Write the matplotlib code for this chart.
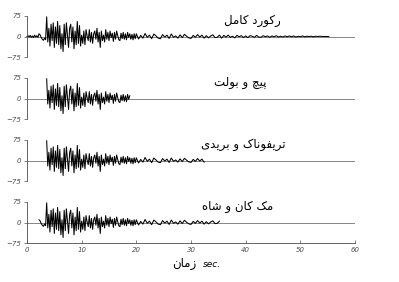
import numpy as np
import matplotlib
matplotlib.use('Agg')
from matplotlib import pyplot as plt

##================================ data ===========================
# accelerogram, dt = 0.2 s from t = 0 to 20 s
acc_head = [0, 3, -2, 4, -3, 2, -4, 5, -2, 3, -3,            # 0.0 - 2.0
            10, 6, -4, -10, -14, -6, -12,                     # 2.2 - 3.4
            72, -20, 30, -35, 45, -15, 50, -40, 35, -25,      # 3.6 - 5.4
            55, -30, 40, -45, 10, -55, 45, -30, 50, 5,        # 5.6 - 7.4
            -40, 30, 45, -20, 35, -45, 20, -30, 55, -25,      # 7.6 - 9.4
            40, -35, 5, -25, 20, -30, 25, 2, -15, 25,         # 9.6 - 11.4
            -20, 15, -25, 10, 20, -10, 30, -20, 15, -40,      # 11.6 - 13.4
            20, -15, 5, -20, 25, -10, 15, -15, 20, -4,        # 13.6 - 15.4
            12, -18, 15, -10, 20, 3, -12, -15, 12, -8,        # 15.6 - 17.4
            15, -10, 10, -12, 15, -3, 10, -10, 8, -12,        # 17.6 - 19.4
            10, -8, 10]                                       # 19.6 - 20.0
# tail, dt = 0.4 s from t = 20.4 s
acc_tail = [-9, 4, -6, 11, -3, 5, -8, 9, 2, -6,
            -8, 7, -2, 5, -7, 9, -3, 2, -6, 6,
            -4, 8, 1, -5, -7, 4, -3, 7, -2, 5,
            -6, 3, -5, 2, 6, -4, -3, 5, -6, 4,
            -2, 5, -3, 1, -5, 4, -1, 3, -4, 2,
            -4, 3, 1, -3, 4, -2, -3, 3, -1, 2,
            -3, 2, -1, 3, -2, 1, -2, 2, -1, 2,
            -1, 2, -2, 1, -1, 2, -1, 1, 0, 1,
            -1, 1, 0, 1, 0, 0, 0, 0]

titles = ['رکورد کامل', 'پیچ و بولت', 'تریفوناک و بریدی', 'مک کان و شاه']
t_start = [0.0, 3.6, 3.6, 2.2]
t_end = [55.2, 18.8, 32.4, 35.2]
title_x = [41.3, 39.0, 39.5, 38.5]
yticks = [-75, 0, 75]
xticks = [0, 10, 20, 30, 40, 50, 60]

##================================ persian shaping ===========================
# (isolated, final, initial, medial)
FORMS = {
    'ا': ('\uFE8D', '\uFE8E', None, None),
    'د': ('\uFEA9', '\uFEAA', None, None),
    'ر': ('\uFEAD', '\uFEAE', None, None),
    'ز': ('\uFEAF', '\uFEB0', None, None),
    'و': ('\uFEED', '\uFEEE', None, None),
    'ب': ('\uFE8F', '\uFE90', '\uFE91', '\uFE92'),
    'ت': ('\uFE95', '\uFE96', '\uFE97', '\uFE98'),
    'چ': ('\uFB7A', '\uFB7B', '\uFB7C', '\uFB7D'),
    'پ': ('\uFB56', '\uFB57', '\uFB58', '\uFB59'),
    'ف': ('\uFED1', '\uFED2', '\uFED3', '\uFED4'),
    'ک': ('\uFB8E', '\uFB8F', '\uFB90', '\uFB91'),
    'ل': ('\uFEDD', '\uFEDE', '\uFEDF', '\uFEE0'),
    'م': ('\uFEE1', '\uFEE2', '\uFEE3', '\uFEE4'),
    'ن': ('\uFEE5', '\uFEE6', '\uFEE7', '\uFEE8'),
    'ه': ('\uFEE9', '\uFEEA', '\uFEEB', '\uFEEC'),
    'ش': ('\uFEB5', '\uFEB6', '\uFEB7', '\uFEB8'),
    'ی': ('\uFBFC', '\uFBFD', '\uFBFE', '\uFBFF'),
}

def shape(s):
    out = []
    for i, ch in enumerate(s):
        if ch not in FORMS:
            out.append(ch)
            continue
        prev = s[i-1] if i > 0 else ''
        nxt = s[i+1] if i+1 < len(s) else ''
        join_prev = prev in FORMS and FORMS[prev][2] is not None
        join_next = nxt in FORMS and FORMS[ch][2] is not None
        iso, fin, ini, med = FORMS[ch]
        if join_prev and join_next:
            out.append(med)
        elif join_prev:
            out.append(fin)
        elif join_next:
            out.append(ini)
        else:
            out.append(iso)
    return ''.join(reversed(out))

##================================ plot ===========================
t = np.concatenate([np.arange(len(acc_head))*0.2, 20.4 + np.arange(len(acc_tail))*0.4])
acc = np.array(acc_head + acc_tail, dtype=float)

fig = plt.figure(figsize=(3.99, 2.82), dpi=100)
W, H = 399.0, 282.0
left = 27/W
width = 328/W
tops = [16, 78, 140, 202]   # pixel row of +75 in each panel
ph = 41

for k in range(4):
    ax = fig.add_axes([left, 1-(tops[k]+ph)/H, width, ph/H])
    m = (t >= t_start[k]-1e-6) & (t <= t_end[k]+1e-6)
    ax.plot([0, 60], [0, 0], color='0.45', lw=0.6, zorder=1)
    ax.plot(t[m], acc[m], color='k', lw=0.75, zorder=2, clip_on=False)
    ax.set_xlim(0, 60)
    ax.set_ylim(-75, 75)
    for s in ['top', 'right']:
        ax.spines[s].set_visible(False)
    ax.spines['left'].set_linewidth(0.6)
    ax.spines['left'].set_color('0.3')
    ax.set_yticks(yticks)
    ax.set_yticklabels(['\u221275', '0', '75'], fontsize=5, style='italic', color='0.25')
    ax.tick_params(axis='y', length=2.5, width=0.5, pad=1.5, colors='0.3')
    ax.text(title_x[k], 58, shape(titles[k]), fontsize=8.5, ha='center', va='center',
            family='DejaVu Sans')
    if k < 3:
        ax.spines['bottom'].set_visible(False)
        ax.set_xticks([])
    else:
        ax.spines['bottom'].set_linewidth(0.6)
        ax.spines['bottom'].set_color('0.3')
        ax.set_xticks(xticks)
        ax.set_xticklabels([str(v) for v in xticks], fontsize=5, style='italic', color='0.25')
        ax.tick_params(axis='x', direction='in', length=2, width=0.5, pad=3, colors='0.3')
    ax.patch.set_visible(False)

fig.text(196/W, 1-267/H, shape('زمان'), fontsize=8.5, ha='right', va='baseline', family='DejaVu Sans')
fig.text(203/W, 1-267/H, 'sec.', fontsize=6.5, ha='left', va='baseline', style='italic')

fig.savefig('out.png', dpi=100)
